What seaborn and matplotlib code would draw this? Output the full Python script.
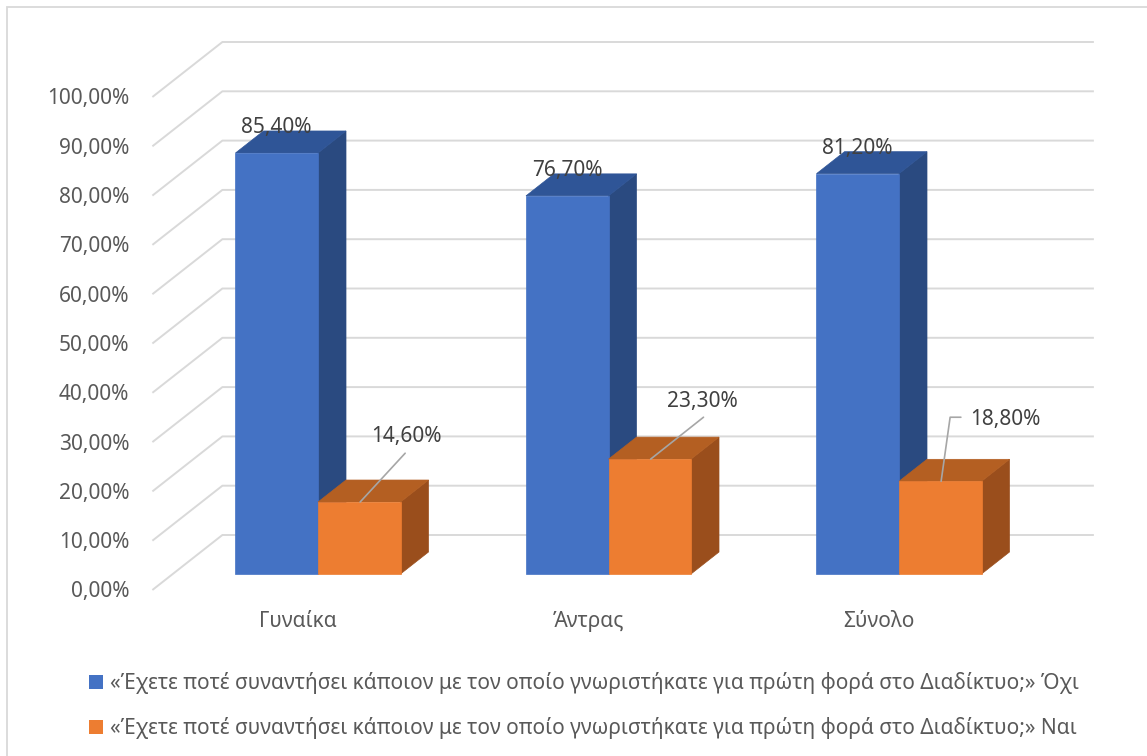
import matplotlib
matplotlib.use("Agg")
import matplotlib.pyplot as plt
from matplotlib.patches import Polygon, Patch, Rectangle
from matplotlib.colors import to_hex
import pandas as pd
import seaborn as sns

# ---- data ----
categories = ["Γυναίκα", "Άντρας", "Σύνολο"]
series_names = [
    "«Έχετε ποτέ συναντήσει κάποιον με τον οποίο γνωριστήκατε για πρώτη φορά στο Διαδίκτυο;» Όχι",
    "«Έχετε ποτέ συναντήσει κάποιον με τον οποίο γνωριστήκατε για πρώτη φορά στο Διαδίκτυο;» Ναι",
]
no_values = [85.4, 76.7, 81.2]
yes_values = [14.6, 23.3, 18.8]
y_ticks = [0, 10, 20, 30, 40, 50, 60, 70, 80, 90, 100]

# ---- style ----
front_colors = ["#4472C4", "#ED7D31"]
top_colors = ["#2F5597", "#B45F22"]
side_colors = ["#2A4A80", "#9A4E1C"]
grid_color = "#D9D9D9"
text_color = "#595959"
FS = 15.0

sns.set_style("white")
plt.rcParams["font.family"] = ["Noto Sans", "DejaVu Sans"]

W, H = 1147, 756
fig = plt.figure(figsize=(W / 100, H / 100), dpi=100)

# axes placement: category unit = 290.5 px, 1 % = 4.93 px
X0_PX, XS = 318.0, 290.5
Y0_PX, YS = 574.0, 4.93
xlim = (-0.75, 2.75)
ylim = (-12.0, 112.0)
left_px = X0_PX + xlim[0] * XS
right_px = X0_PX + xlim[1] * XS
bot_px = Y0_PX - ylim[0] * YS
top_px = Y0_PX - ylim[1] * YS
ax = fig.add_axes([left_px / W, 1 - bot_px / H, (right_px - left_px) / W, (bot_px - top_px) / H])

# oblique depth projection (d=0 front of floor, d=1 back wall)
KX = 70.0 / XS
KV = 55.0 / YS
D0 = 16.0 / 55.0          # depth of the bars' front faces
BAR_DEPTH = 0.40


def proj(x, v, d):
    return x + (d - D0) * KX, v + (d - D0) * KV


# ---- walls / gridlines ----
floor_l, floor_r = -0.5, 2.5
for t in y_ticks:
    p0 = proj(floor_l, t, 0)
    p1 = proj(floor_l, t, 1)
    p2 = proj(floor_r, t, 1)
    ax.plot([p0[0], p1[0], p2[0]], [p0[1], p1[1], p2[1]], color=grid_color,
            lw=1.4, zorder=0.5, solid_capstyle="butt")
    lx, ly = proj(floor_l, t, 0)
    ax.text(lx - 0.079, ly - 0.4, f"{t:.2f}%".replace(".", ","), ha="right", va="center",
            fontsize=FS, color=text_color)

# ---- bars (front faces) ----
df = pd.DataFrame({
    "category": categories * 2,
    "series": [series_names[0]] * 3 + [series_names[1]] * 3,
    "value": no_values + yes_values,
})
sns.barplot(data=df, x="category", y="value", hue="series", hue_order=series_names,
            palette=front_colors, saturation=1, width=0.568, dodge=True, ax=ax,
            legend=False, errorbar=None)

front_hex = [c.lower() for c in front_colors]
for p in list(ax.patches):
    k = front_hex.index(to_hex(p.get_facecolor()).lower())
    x0 = p.get_x()
    x1 = x0 + p.get_width()
    h = p.get_height()
    z = 2 + k
    p.set_zorder(z + 0.3)
    p.set_edgecolor(front_colors[k])
    p.set_linewidth(0.5)
    d1 = D0 + BAR_DEPTH
    side = [proj(x1, 0, D0), proj(x1, 0, d1), proj(x1, h, d1), proj(x1, h, D0)]
    top = [proj(x0, h, D0), proj(x0, h, d1), proj(x1, h, d1), proj(x1, h, D0)]
    ax.add_patch(Polygon(side, closed=True, fc=side_colors[k], ec=side_colors[k], lw=0.5, zorder=z + 0.1))
    ax.add_patch(Polygon(top, closed=True, fc=top_colors[k], ec=top_colors[k], lw=0.5, zorder=z + 0.2))

# ---- value labels ----
bar_w = 0.284
for i, v in enumerate(no_values):
    ax.text(i - bar_w / 2, v + 5.2, f"{v:.2f}%".replace(".", ","), ha="center", va="center",
            fontsize=FS, color="#404040", zorder=10)

# callout labels for the second series: (text dx, text dv, leader path points)
yes_label_pos = [(0.303, 27.8), (0.324, 34.9), (0.365, 31.4)]
yes_leaders = [
    [(0.145, 0.0), (0.300, 9.9)],
    [(0.145, 0.0), (0.327, 8.5)],
    [(0.145, 0.0), (0.176, 13.0), (0.213, 13.0)],
]
for i, v in enumerate(yes_values):
    tx, tv = yes_label_pos[i]
    ax.text(i + tx, tv, f"{v:.2f}%".replace(".", ","), ha="center", va="center",
            fontsize=FS, color="#404040", zorder=10)
    pts = yes_leaders[i]
    ax.plot([i + px for px, _ in pts], [v + pv for _, pv in pts], color="#A6A6A6",
            lw=1.2, zorder=9)

# ---- category labels at the front edge of the floor ----
for i, c in enumerate(categories):
    cx, _ = proj(i, 0, 0)
    ax.text(cx, -9.6, c, ha="center", va="center", fontsize=FS, color=text_color)

ax.set_xlim(*xlim)
ax.set_ylim(*ylim)
ax.axis("off")

# ---- legend ----
handles = [Patch(fc=front_colors[k], ec="none") for k in range(2)]
fig.legend(handles, series_names, loc="upper left", bbox_to_anchor=(89 / W, 1 - 672 / H),
           frameon=False, fontsize=FS, labelcolor=text_color, handlelength=0.65,
           handleheight=0.65, handletextpad=0.35, labelspacing=1.1, borderpad=0,
           borderaxespad=0)

# chart area border
fig.patches.append(Rectangle((7 / W, -0.1), 1.2, 1.1 - 7 / H, transform=fig.transFigure,
                             fill=False, ec="#D9D9D9", lw=1.3))

fig.savefig("out.png", dpi=100, facecolor="white")
